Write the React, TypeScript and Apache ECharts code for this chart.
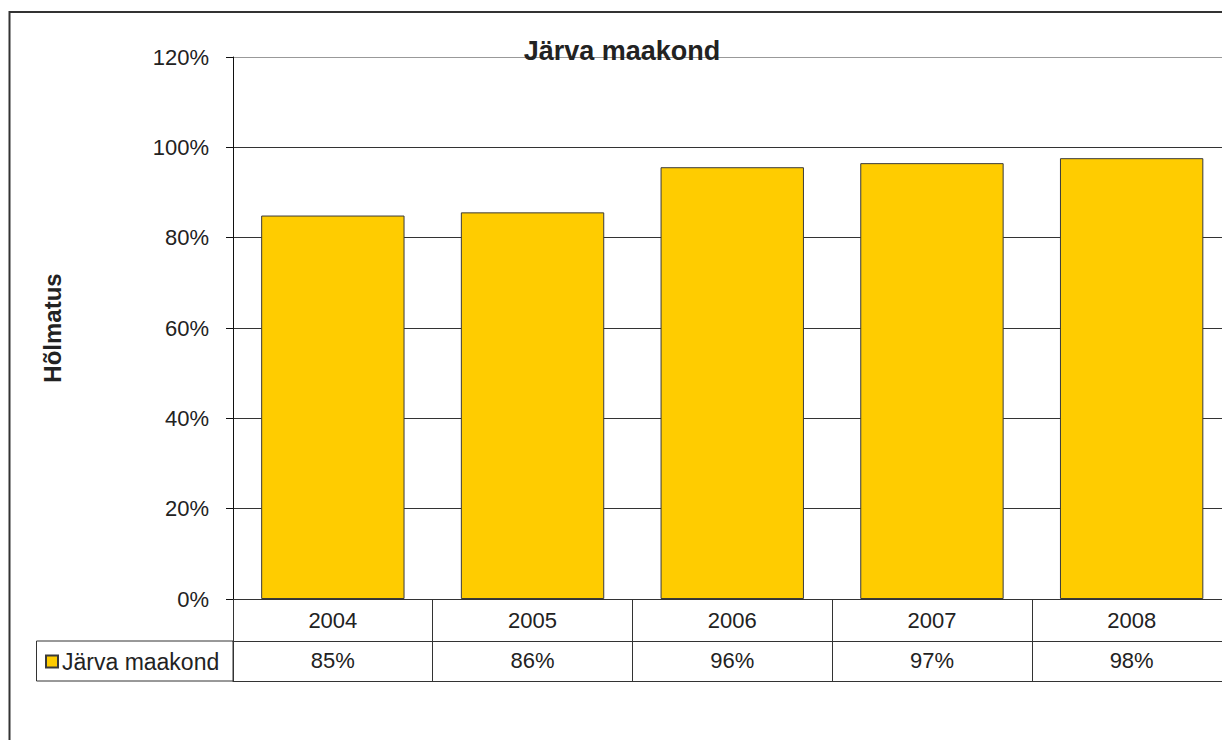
import React, { useEffect, useRef } from "react";
import * as echarts from "echarts";

const years = ["2004", "2005", "2006", "2007", "2008"];
const seriesName = "Järva maakond";
const coverage = [0.849, 0.856, 0.956, 0.965, 0.976];
const yTicks = [0, 0.2, 0.4, 0.6, 0.8, 1.0, 1.2];
const chartTitle = "Järva maakond";
const yAxisTitle = "Hõlmatus";

const FONT = "'Liberation Sans', Arial, sans-serif";
const TXT = "#222";
const LINE = "#333";

const pct = (v: number) => `${Math.round(v * 100)}%`;

export default function App() {
  const ref = useRef<HTMLDivElement>(null);
  useEffect(() => {
    if (!ref.current) return;
    const chart = echarts.init(ref.current, undefined, { renderer: "svg" });
    const gridLeft = 233;
    const gridTop = 57;
    const gridWidth = 998.5;
    const gridHeight = 542;
    chart.setOption({
      animation: false,
      backgroundColor: "#fff",
      textStyle: { fontFamily: FONT },
      title: {
        text: chartTitle,
        left: 617,
        textAlign: "center",
        top: 32,
        textStyle: { fontFamily: FONT, fontSize: 27, fontWeight: "bold", color: TXT },
      },
      legend: {
        left: 40,
        top: 645,
        icon: "rect",
        itemWidth: 12,
        itemHeight: 12,
        itemGap: 4,
        data: [seriesName],
        textStyle: { fontFamily: FONT, fontSize: 23, color: TXT, padding: [0, 0, 0, -1] },
      },
      grid: { left: gridLeft, top: gridTop, width: gridWidth, height: gridHeight, containLabel: false },
      xAxis: [
        {
          type: "category",
          data: years,
          position: "bottom",
          axisLine: { show: true, lineStyle: { color: LINE, width: 1 } },
          axisTick: { show: true, alignWithLabel: false, length: 82, lineStyle: { color: LINE, width: 1 } },
          axisLabel: {
            margin: 21.5,
            verticalAlign: "middle",
            fontFamily: FONT,
            fontSize: 22,
            color: TXT,
          },
          splitLine: { show: false },
        },
        {
          type: "category",
          data: coverage.map(pct),
          position: "bottom",
          offset: 42,
          axisLine: { show: true, lineStyle: { color: LINE, width: 1 } },
          axisTick: { show: false },
          axisLabel: {
            margin: 19,
            verticalAlign: "middle",
            fontFamily: FONT,
            fontSize: 22,
            color: TXT,
          },
        },
        {
          type: "category",
          data: years,
          position: "bottom",
          offset: 82,
          axisLine: { show: true, lineStyle: { color: LINE, width: 1 } },
          axisTick: { show: false },
          axisLabel: { show: false },
        },
      ],
      yAxis: {
        type: "value",
        min: yTicks[0],
        max: yTicks[yTicks.length - 1],
        interval: 0.2,
        name: yAxisTitle,
        nameLocation: "middle",
        nameRotate: 90,
        nameGap: 169,
        nameTextStyle: { fontFamily: FONT, fontSize: 24, fontWeight: "bold", color: TXT },
        axisLine: { show: true, lineStyle: { color: "#111", width: 1 } },
        axisTick: { show: true, inside: false, length: 7, lineStyle: { color: "#111" } },
        axisLabel: {
          margin: 24,
          fontFamily: FONT,
          fontSize: 22,
          color: TXT,
          formatter: (v: number) => pct(v),
        },
        splitLine: {
          show: true,
          lineStyle: { color: [LINE, LINE, LINE, LINE, LINE, LINE, "#999"], width: 1 },
        },
      },
      series: [
        {
          name: seriesName,
          type: "bar",
          data: coverage,
          barCategoryGap: "28.2%",
          itemStyle: { color: "#FFCC00", borderColor: "#3a3a3a", borderWidth: 1 },
        },
      ],
      graphic: [
        {
          type: "polyline",
          shape: { points: [[1400, 12], [9.5, 12], [9.5, 1000]] },
          style: { fill: "none", stroke: "#333", lineWidth: 2 },
          silent: true,
        },
        {
          type: "rect",
          shape: { x: 36.5, y: 641, width: gridLeft - 36.5, height: 40 },
          style: { fill: "none", stroke: LINE, lineWidth: 1 },
          silent: true,
        },
      ],
    });
    return () => chart.dispose();
  }, []);
  return (
    <div
      style={{
        position: "fixed",
        left: 0,
        top: 0,
        width: 1222,
        height: 740,
        overflow: "hidden",
        background: "#fff",
      }}
    >
      <div ref={ref} style={{ width: 1300, height: 740 }} />
    </div>
  );
}
